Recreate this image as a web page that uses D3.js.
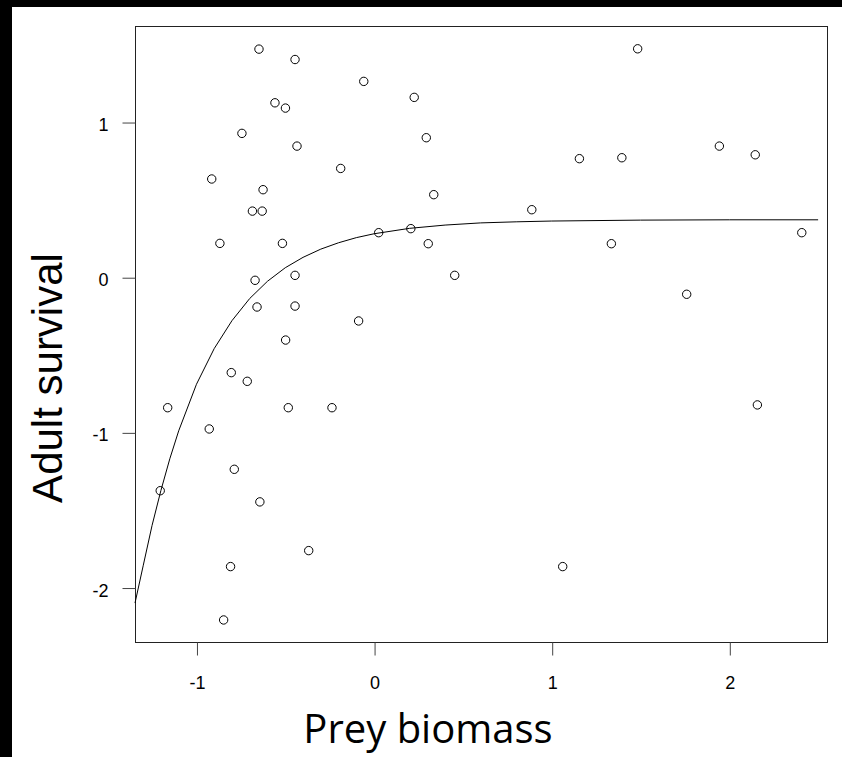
<!DOCTYPE html>
<html>
<head>
<meta charset="utf-8">
<script src="https://cdn.jsdelivr.net/npm/d3@7"></script>
<style>
	html, body { margin: 0; padding: 0; background: #fff; }
	svg { display: block; }
</style>
</head>
<body>
<svg id="svgArea" width="842" height="757"></svg>
<script>
// observed points
const preyBiomass = [
	-0.648, -0.445, 1.484, -0.058, 0.226, -0.558, -0.499, -0.744, 0.294, -0.434,
	1.156, 1.395, 1.944, 2.146, -0.188, -0.914, -0.625, 0.336, -0.685, -0.630,
	0.888, -0.868, -0.516, 0.026, 0.207, 0.305, 1.336, 2.408, -0.670, -0.445,
	0.454, -0.659, -0.445, 1.760, -0.087, -0.498, -0.804, -0.714, -1.162, -0.483,
	-0.237, 2.158, -0.928, -0.787, -1.204, -0.643, -0.368, -0.808, 1.062, -0.847
];
const adultSurvival = [
	1.470, 1.403, 1.472, 1.262, 1.159, 1.124, 1.090, 0.927, 0.899, 0.845,
	0.764, 0.770, 0.845, 0.789, 0.701, 0.633, 0.564, 0.532, 0.426, 0.426,
	0.435, 0.218, 0.218, 0.287, 0.313, 0.216, 0.216, 0.287, -0.020, 0.012,
	0.012, -0.192, -0.186, -0.110, -0.282, -0.405, -0.615, -0.671, -0.841, -0.841,
	-0.841, -0.823, -0.978, -1.238, -1.376, -1.448, -1.762, -1.865, -1.865, -2.209
];

// fitted curve
const curveX = [-1.346, -1.3, -1.25, -1.2, -1.15, -1.1, -1.0, -0.9, -0.8, -0.7, -0.6, -0.5,
	-0.4, -0.3, -0.2, -0.1, 0, 0.2, 0.4, 0.6, 0.8, 1.0, 1.5, 2.0, 2.5];
const curveY = [-2.10, -1.86, -1.60, -1.374, -1.17, -0.99, -0.69, -0.46, -0.28, -0.137, -0.026, 0.061,
	0.128, 0.181, 0.222, 0.255, 0.28, 0.315, 0.336, 0.350, 0.357, 0.362, 0.368, 0.370, 0.370];

const xTicks = [-1, 0, 1, 2];
const yTicks = [-2, -1, 0, 1];

const plotLeft = 135, plotRight = 827, plotTop = 26, plotBottom = 642;
const tickLen = 13;

let svg, x, y;

function makeFrame() {
	// black edges of the original screenshot
	svg.append("rect").attr("x", 0).attr("y", 0).attr("width", 842).attr("height", 7).attr("fill", "#000");
	svg.append("rect").attr("x", 0).attr("y", 0).attr("width", 12).attr("height", 757).attr("fill", "#000");

	svg.append("rect")
		.attr("x", plotLeft + 0.5)
		.attr("y", plotTop + 0.5)
		.attr("width", plotRight - plotLeft)
		.attr("height", plotBottom - plotTop)
		.attr("fill", "none")
		.attr("stroke", "#222")
		.attr("stroke-width", 1);
}

function makeAxes() {
	const fmt = d => String(d);  // plain hyphen, not unicode minus
	const xAxis = svg.append("g")
		.attr("transform", `translate(0.5,${plotBottom + 0.5})`)
		.call(d3.axisBottom(x).tickValues(xTicks).tickSize(tickLen).tickSizeOuter(0).tickFormat(fmt));
	const yAxis = svg.append("g")
		.attr("transform", `translate(${plotLeft + 0.5},0.5)`)
		.call(d3.axisLeft(y).tickValues(yTicks).tickSize(tickLen).tickSizeOuter(0).tickFormat(fmt));

	[xAxis, yAxis].forEach(g => {
		g.select(".domain").remove();
		g.selectAll("line").attr("stroke", "#444");
		g.selectAll("text")
			.attr("fill", "#000")
			.style("font-family", "'Liberation Sans', Arial, sans-serif")
			.style("font-size", "18px");
	});
	xAxis.selectAll("text").attr("y", 46).attr("dy", 0);
	yAxis.selectAll("text").attr("x", -27).attr("dy", "0.45em");

	svg.append("text")
		.attr("x", 428)
		.attr("y", 743)
		.attr("text-anchor", "middle")
		.style("font-family", "'Open Sans', 'Noto Sans', sans-serif")
		.style("font-size", "40px")
		.text("Prey biomass");

	svg.append("text")
		.attr("transform", "translate(62,378) rotate(-90)")
		.attr("text-anchor", "middle")
		.style("font-family", "'Liberation Sans', Arial, sans-serif")
		.style("font-size", "42px")
		.text("Adult survival");
}

function makeMarks() {
	const pts = preyBiomass.map((v, i) => ({ px: v, py: adultSurvival[i] }));
	const line = curveX.map((v, i) => [v, curveY[i]]);

	svg.append("path")
		.datum(line)
		.attr("fill", "none")
		.attr("stroke", "#000")
		.attr("stroke-width", 1)
		.attr("d", d3.line().x(d => x(d[0])).y(d => y(d[1])));

	svg.selectAll("circle.pt")
		.data(pts)
		.enter()
		.append("circle")
		.attr("class", "pt")
		.attr("cx", d => x(d.px))
		.attr("cy", d => y(d.py))
		.attr("r", 4.2)
		.attr("fill", "none")
		.attr("stroke", "#000")
		.attr("stroke-width", 1);
}

function createChart() {
	svg = d3.select("#svgArea");
	x = d3.scaleLinear().domain([-1.346, 2.55]).range([plotLeft, plotRight]);
	y = d3.scaleLinear().domain([-2.351, 1.619]).range([plotBottom, plotTop]);

	makeFrame();
	makeMarks();
	makeAxes();
}

createChart();
</script>
</body>
</html>
